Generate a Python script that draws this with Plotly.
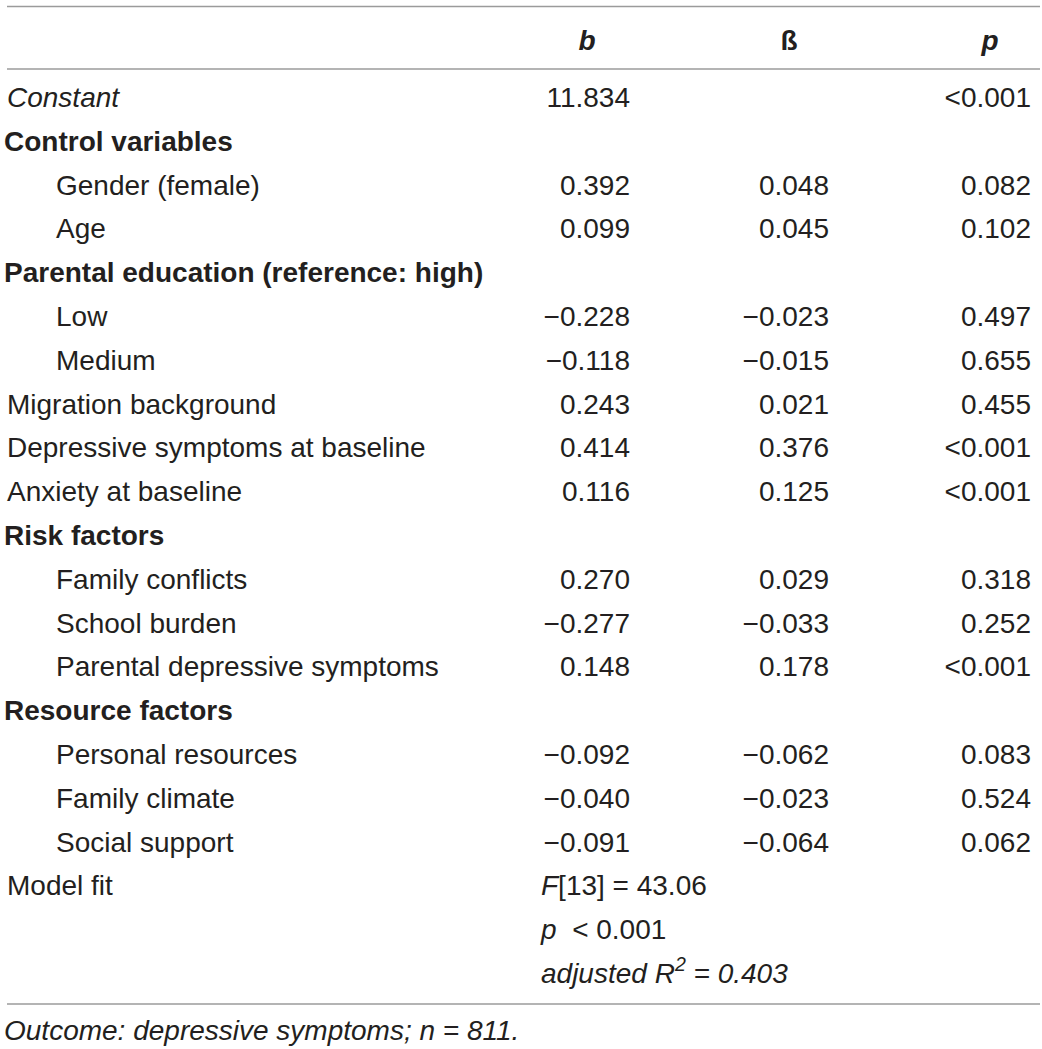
import plotly.graph_objects as go

# --- TABLE CONTENT ---
HEADERS = ["<b><i>b</i></b>", "<b>ß</b>", "<b><i>p</i></b>"]

ROW_LABELS = [
    "Constant",
    "Control variables",
    "Gender (female)",
    "Age",
    "Parental education (reference: high)",
    "Low",
    "Medium",
    "Migration background",
    "Depressive symptoms at baseline",
    "Anxiety at baseline",
    "Risk factors",
    "Family conflicts",
    "School burden",
    "Parental depressive symptoms",
    "Resource factors",
    "Personal resources",
    "Family climate",
    "Social support",
    "Model fit",
]
# italic / group heading / top-level / indented item
ROW_KIND = [
    "italic", "group", "item", "item", "group", "item", "item", "top", "top",
    "top", "group", "item", "item", "item", "group", "item", "item", "item", "top",
]
B_VALS = [11.834, None, 0.392, 0.099, None, -0.228, -0.118, 0.243, 0.414, 0.116,
          None, 0.270, -0.277, 0.148, None, -0.092, -0.040, -0.091, None]
BETA_VALS = [None, None, 0.048, 0.045, None, -0.023, -0.015, 0.021, 0.376, 0.125,
             None, 0.029, -0.033, 0.178, None, -0.062, -0.023, -0.064, None]
P_VALS = ["<0.001", None, "0.082", "0.102", None, "0.497", "0.655", "0.455", "<0.001",
          "<0.001", None, "0.318", "0.252", "<0.001", None, "0.083", "0.524", "0.062", None]
MODEL_FIT = ["<i>F</i>[13] = 43.06", "<i>p</i>  < 0.001", "<i>adjusted R<sup>2</sup> = 0.403</i>"]
FOOTNOTE = "<i>Outcome: depressive symptoms; n = 811.</i>"

# --- LAYOUT CONSTANTS ---
W, H = 1042, 1049
ROW_PX, ROW0_PX = 43.8, 100
FONT = "Liberation Sans, Arial, sans-serif"
TXT = "#231f20"
RULE = "#9b9b9b"
FS = 28
X_TOP, X_SUB, X_LEFT = 7, 56, 4
X_B, X_BETA, X_P = 630, 829, 1031
X_FIT = 541
HEAD_X = [587, 789, 990]


def fmt(v):
    s = f"{abs(v):.3f}"
    return ("\u2212" + s) if v < 0 else s


def row_to_y(px):
    return (px - ROW0_PX) / ROW_PX


rows = list(range(len(ROW_LABELS)))
label_txt, label_x = [], []
for lab, kind in zip(ROW_LABELS, ROW_KIND):
    if kind == "italic":
        label_txt.append(f"<i>{lab}</i>"); label_x.append(X_TOP)
    elif kind == "group":
        label_txt.append(f"<b>{lab}</b>"); label_x.append(X_LEFT)
    elif kind == "item":
        label_txt.append(lab); label_x.append(X_SUB)
    else:
        label_txt.append(lab); label_x.append(X_TOP)

fig = go.Figure()
font = dict(family=FONT, size=FS, color=TXT)


def add_text(xs, ys, texts, pos):
    fig.add_trace(go.Scatter(x=xs, y=ys, text=texts, mode="text", textposition=pos,
                             textfont=font, marker=dict(size=1), hoverinfo="skip",
                             showlegend=False, cliponaxis=False))


def add_column(x, vals, to_text):
    keep = [i for i, v in enumerate(vals) if v is not None]
    add_text([x] * len(keep), keep, [to_text(vals[i]) for i in keep], "middle left")


# row labels
add_text(label_x, rows, label_txt, "middle right")
# numeric columns, right aligned
add_column(X_B, B_VALS, fmt)
add_column(X_BETA, BETA_VALS, fmt)
add_column(X_P, P_VALS, str)
# header
add_text(HEAD_X, [row_to_y(43)] * 3, HEADERS, "middle center")
# model fit lines
fit_rows = [len(rows) - 1 + i for i in range(len(MODEL_FIT))]
add_text([X_FIT] * len(MODEL_FIT), fit_rows, MODEL_FIT, "middle right")
# footnote
add_text([X_LEFT], [row_to_y(1033)], [FOOTNOTE], "middle right")

# horizontal rules
for py in [6.5, 69, 1004]:
    fig.add_shape(type="line", xref="x", yref="y", x0=7, x1=1040,
                  y0=row_to_y(py), y1=row_to_y(py), line=dict(color=RULE, width=1.6))

fig.update_xaxes(range=[0, W], visible=False, fixedrange=True)
fig.update_yaxes(range=[row_to_y(H), row_to_y(0)], visible=False, fixedrange=True)
fig.update_layout(width=W, height=H, margin=dict(l=0, r=0, t=0, b=0),
                  plot_bgcolor="white", paper_bgcolor="white")

# page body has a default 8px margin; drop it so the table sits at the window edge
fig.write_html("out.html", config={"displayModeBar": False},
               post_script="document.body.style.margin='0';document.body.style.overflow='hidden';")
